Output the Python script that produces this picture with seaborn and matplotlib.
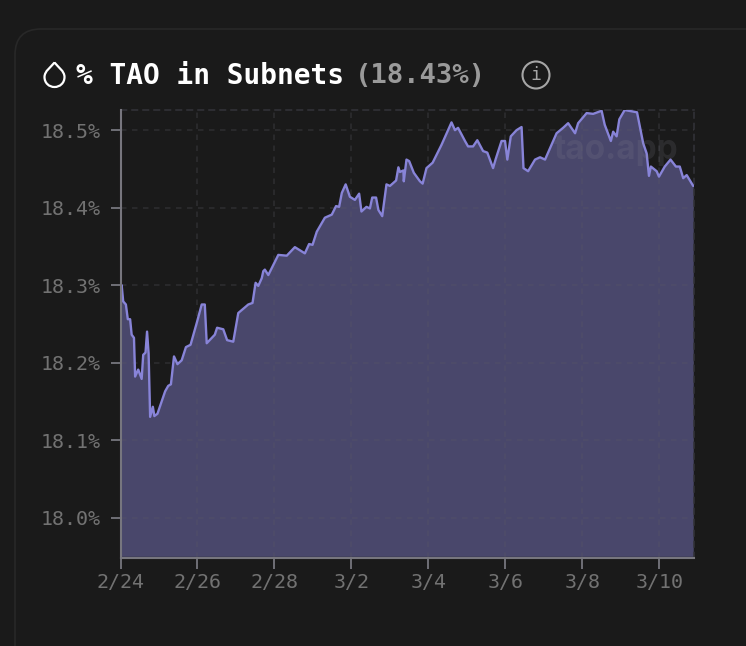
#!/usr/bin/env python3

import matplotlib
matplotlib.use("Agg")
import matplotlib.pyplot as plt
import seaborn as sns
import pandas as pd
from matplotlib.patches import FancyBboxPatch, PathPatch, Circle
from matplotlib.path import Path

# days since 2/24
days = [0.0, 0.03, 0.07, 0.14, 0.19, 0.25, 0.29, 0.35, 0.38, 0.46, 0.55, 0.59, 0.65, 0.69, 0.73, 0.77,
        0.84, 0.88, 0.96, 1.16, 1.24, 1.31, 1.39, 1.48, 1.59, 1.70, 1.82, 1.98, 2.11, 2.19, 2.24, 2.45,
        2.51, 2.67, 2.77, 2.93, 3.06, 3.32, 3.43, 3.51, 3.58, 3.67, 3.71, 3.75, 3.84, 4.04, 4.10, 4.32,
        4.53, 4.79, 4.90, 4.99, 5.10, 5.31, 5.49, 5.60, 5.68, 5.75, 5.85, 5.96, 6.09, 6.20, 6.26, 6.39,
        6.48, 6.54, 6.64, 6.70, 6.80, 6.91, 7.00, 7.16, 7.22, 7.26, 7.35, 7.36, 7.43, 7.50, 7.62, 7.78,
        7.85, 7.95, 8.11, 8.34, 8.60, 8.69, 8.77, 8.95, 9.03, 9.16, 9.27, 9.42, 9.53, 9.68, 9.75, 9.90,
        9.99, 10.05, 10.14, 10.29, 10.42, 10.47, 10.59, 10.77, 10.90, 11.03, 11.33, 11.50, 11.63, 11.81,
        11.89, 12.11, 12.28, 12.50, 12.58, 12.74, 12.80, 12.89, 12.96, 13.10, 13.42, 13.58, 13.67, 13.73,
        13.78, 13.93, 13.99, 14.14, 14.29, 14.43, 14.53, 14.62, 14.71, 14.88]
pct = [18.295, 18.30, 18.279, 18.275, 18.256, 18.256, 18.236, 18.232, 18.182, 18.191, 18.179, 18.21, 18.213, 18.24, 18.212, 18.13,
       18.143, 18.131, 18.134, 18.163, 18.17, 18.172, 18.208, 18.198, 18.203, 18.22, 18.223, 18.251, 18.275, 18.275, 18.225, 18.236,
       18.245, 18.243, 18.229, 18.227, 18.264, 18.275, 18.277, 18.303, 18.299, 18.309, 18.318, 18.32, 18.313, 18.333, 18.339, 18.338,
       18.349, 18.341, 18.353, 18.352, 18.369, 18.387, 18.391, 18.402, 18.401, 18.419, 18.43, 18.414, 18.41, 18.418, 18.395, 18.401,
       18.399, 18.413, 18.413, 18.397, 18.389, 18.43, 18.428, 18.435, 18.452, 18.446, 18.448, 18.434, 18.462, 18.46, 18.445, 18.434,
       18.431, 18.451, 18.458, 18.481, 18.51, 18.50, 18.503, 18.486, 18.479, 18.479, 18.487, 18.473, 18.471, 18.451, 18.463, 18.486,
       18.486, 18.462, 18.492, 18.50, 18.504, 18.451, 18.447, 18.462, 18.465, 18.462, 18.496, 18.503, 18.509, 18.496,
       18.509, 18.522, 18.521, 18.525, 18.507, 18.486, 18.498, 18.492, 18.514, 18.526, 18.523, 18.483, 18.47, 18.441,
       18.453, 18.447, 18.44, 18.453, 18.462, 18.453, 18.453, 18.438, 18.442, 18.428]

x_ticks = [0, 2, 4, 6, 8, 10, 12, 14]
x_labels = ["2/24", "2/26", "2/28", "3/2", "3/4", "3/6", "3/8", "3/10"]
y_ticks = [18.0, 18.1, 18.2, 18.3, 18.4, 18.5]
y_labels = ["18.0%", "18.1%", "18.2%", "18.3%", "18.4%", "18.5%"]

BG = "#1a1a1a"
LINE = "#8884d8"
AXIS = "#77767e"
TICK_TEXT = "#727272"
GRID = "#5c5c66"
MONO = "DejaVu Sans Mono"

W, H = 746, 646

sns.set_theme(style="dark")
plt.rcParams["font.family"] = [MONO]

df = pd.DataFrame({"day": days, "pct": pct})

fig = plt.figure(figsize=(W / 100, H / 100), dpi=100, facecolor=BG)

# overlay in pixel coords, y going down
over = fig.add_axes([0, 0, 1, 1], zorder=0)
over.set_xlim(0, W)
over.set_ylim(H, 0)
over.axis("off")

over.add_patch(FancyBboxPatch((15, 29), 800, 800, boxstyle="round,pad=0,rounding_size=26",
                              fc=BG, ec="#282828", lw=1.2))

# droplet icon
drop = Path(
    [(54.5, 62.5), (58, 67), (64.5, 71), (64.5, 77), (64.5, 83), (60, 87), (54.5, 87),
     (49, 87), (44.5, 83), (44.5, 77), (44.5, 71), (51, 67), (54.5, 62.5)],
    [Path.MOVETO] + [Path.CURVE4] * 12,
)
over.add_patch(PathPatch(drop, fc="none", ec="white", lw=1.6))

over.text(76, 76, "% TAO in Subnets", color="white", fontsize=20, fontweight="bold",
          va="center", ha="left", family=MONO)
over.text(355, 76, "(18.43%)", color="#9a9a9a", fontsize=19.6, fontweight="bold",
          va="center", ha="left", family=MONO)

# info icon
over.add_patch(Circle((536, 75), 13.5, fc="none", ec="#a6a6a6", lw=1.5))
over.text(536, 75, "i", color="#a6a6a6", fontsize=13, va="center", ha="center", family=MONO)

ax = fig.add_axes([120.5 / W, 1 - 557.5 / H, (694 - 120.5) / W, (557.5 - 110) / H], zorder=1)
ax.set_facecolor("none")

ax.fill_between(df["day"], df["pct"], 17.95, color=LINE, alpha=0.43, lw=0, zorder=2)
sns.lineplot(data=df, x="day", y="pct", color=LINE, linewidth=1.7, sort=False, errorbar=None, ax=ax, zorder=3)

ax.set_xlim(0, 14.9)
ax.set_ylim(17.9485, 18.526)
ax.set_xticks(x_ticks)
ax.set_xticklabels(x_labels)
ax.set_yticks(y_ticks)
ax.set_yticklabels(y_labels)
ax.set_xlabel("")
ax.set_ylabel("")

ax.grid(True, color=GRID, linestyle=(0, (3.6, 3.6)), linewidth=1.1, alpha=0.3)
ax.set_axisbelow(False)
ax.tick_params(axis="x", length=8, width=1.3, color=AXIS, labelcolor=TICK_TEXT, labelsize=14.4, pad=3.5, bottom=True)
ax.tick_params(axis="y", length=7, width=1.3, color=AXIS, labelcolor=TICK_TEXT, labelsize=14.4, pad=7, left=True)

for side in ["left", "bottom"]:
    ax.spines[side].set_color(AXIS)
    ax.spines[side].set_linewidth(1.5)
    ax.spines[side].set_zorder(6)
for side in ["top", "right"]:
    ax.spines[side].set_color("#34343a")
    ax.spines[side].set_linewidth(1.1)
    ax.spines[side].set_linestyle((0, (3.6, 3.6)))

# watermark
over2 = fig.add_axes([0, 0, 1, 1], zorder=2)
over2.set_xlim(0, W)
over2.set_ylim(H, 0)
over2.axis("off")
over2.text(616, 150, "tao.app", color="#8a8a95", alpha=0.16, fontsize=24, fontweight="bold",
           va="center", ha="center", family="Inter")

fig.savefig("out.png", dpi=100, facecolor=BG)
plt.close()
